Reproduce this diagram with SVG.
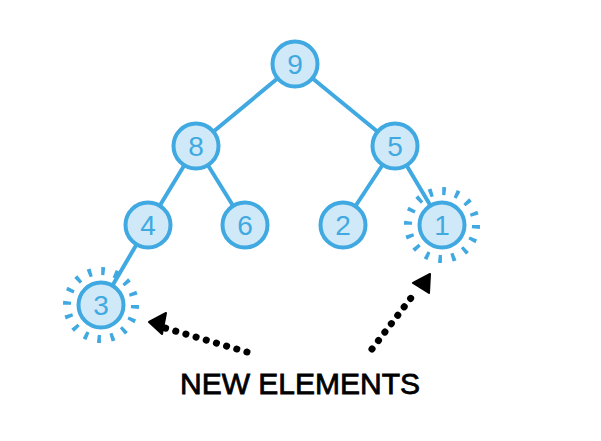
<svg xmlns="http://www.w3.org/2000/svg" width="601" height="441" viewBox="0 0 601 441">
<defs>
<style>
.edge{stroke:#41a9e1;stroke-width:4;stroke-linecap:round;fill:none}
.node circle.c{fill:#cfe9f9;stroke:#41a9e1;stroke-width:4}
.node text{font-family:"Liberation Sans",Arial,sans-serif;font-size:28px;fill:#41a9e1;text-anchor:middle;dominant-baseline:central}
.rays{fill:none;stroke:#41a9e1;stroke-width:8;stroke-dasharray:3.6 9.75}
.dots{stroke:#000;stroke-width:7;stroke-linecap:round;stroke-dasharray:0.1 10.5;fill:none}
.label{font-family:"Liberation Sans",Arial,sans-serif;font-size:30px;fill:#000;text-anchor:middle;stroke:#000;stroke-width:0.8}
</style>
</defs>
<rect width="601" height="441" fill="#fff"/>
<g id="connectors">
<line class="edge" x1="295" y1="64" x2="196" y2="146"/>
<line class="edge" x1="295" y1="64" x2="395" y2="146"/>
<line class="edge" x1="196" y1="146" x2="148" y2="225"/>
<line class="edge" x1="196" y1="146" x2="245" y2="225"/>
<line class="edge" x1="395" y1="146" x2="343" y2="225"/>
<line class="edge" x1="395" y1="146" x2="442" y2="225"/>
<line class="edge" x1="148" y1="225" x2="101" y2="305"/>
<path class="dots" d="M247,352 L165,328"/>
<path d="M149,322 L166,313 L162,334 Z" fill="#000" stroke="#000" stroke-width="2" stroke-linejoin="round"/>
<path class="dots" d="M372,349 L414,294"/>
<path d="M430,274 L413,283 L429,293 Z" fill="#000" stroke="#000" stroke-width="2" stroke-linejoin="round"/>
</g>
<g id="n9" class="node"><circle class="c" cx="295" cy="64" r="22.5"/><text x="295" y="64">9</text></g>
<g id="n8" class="node"><circle class="c" cx="196" cy="146" r="22.5"/><text x="196" y="146">8</text></g>
<g id="n5" class="node"><circle class="c" cx="395" cy="146" r="22.5"/><text x="395" y="146">5</text></g>
<g id="n4" class="node"><circle class="c" cx="148" cy="225" r="22.5"/><text x="148" y="225">4</text></g>
<g id="n6" class="node"><circle class="c" cx="245" cy="225" r="22.5"/><text x="245" y="225">6</text></g>
<g id="n2" class="node"><circle class="c" cx="343" cy="225" r="22.5"/><text x="343" y="225">2</text></g>
<g id="n1" class="node"><circle class="rays" cx="442" cy="225" r="34"/><circle class="c" cx="442" cy="225" r="22.5"/><text x="442" y="225">1</text></g>
<g id="n3" class="node"><circle class="rays" cx="101" cy="305" r="34"/><circle class="c" cx="101" cy="305" r="22.5"/><text x="101" y="305">3</text></g>
<text class="label" x="300" y="394">NEW ELEMENTS</text>
</svg>
